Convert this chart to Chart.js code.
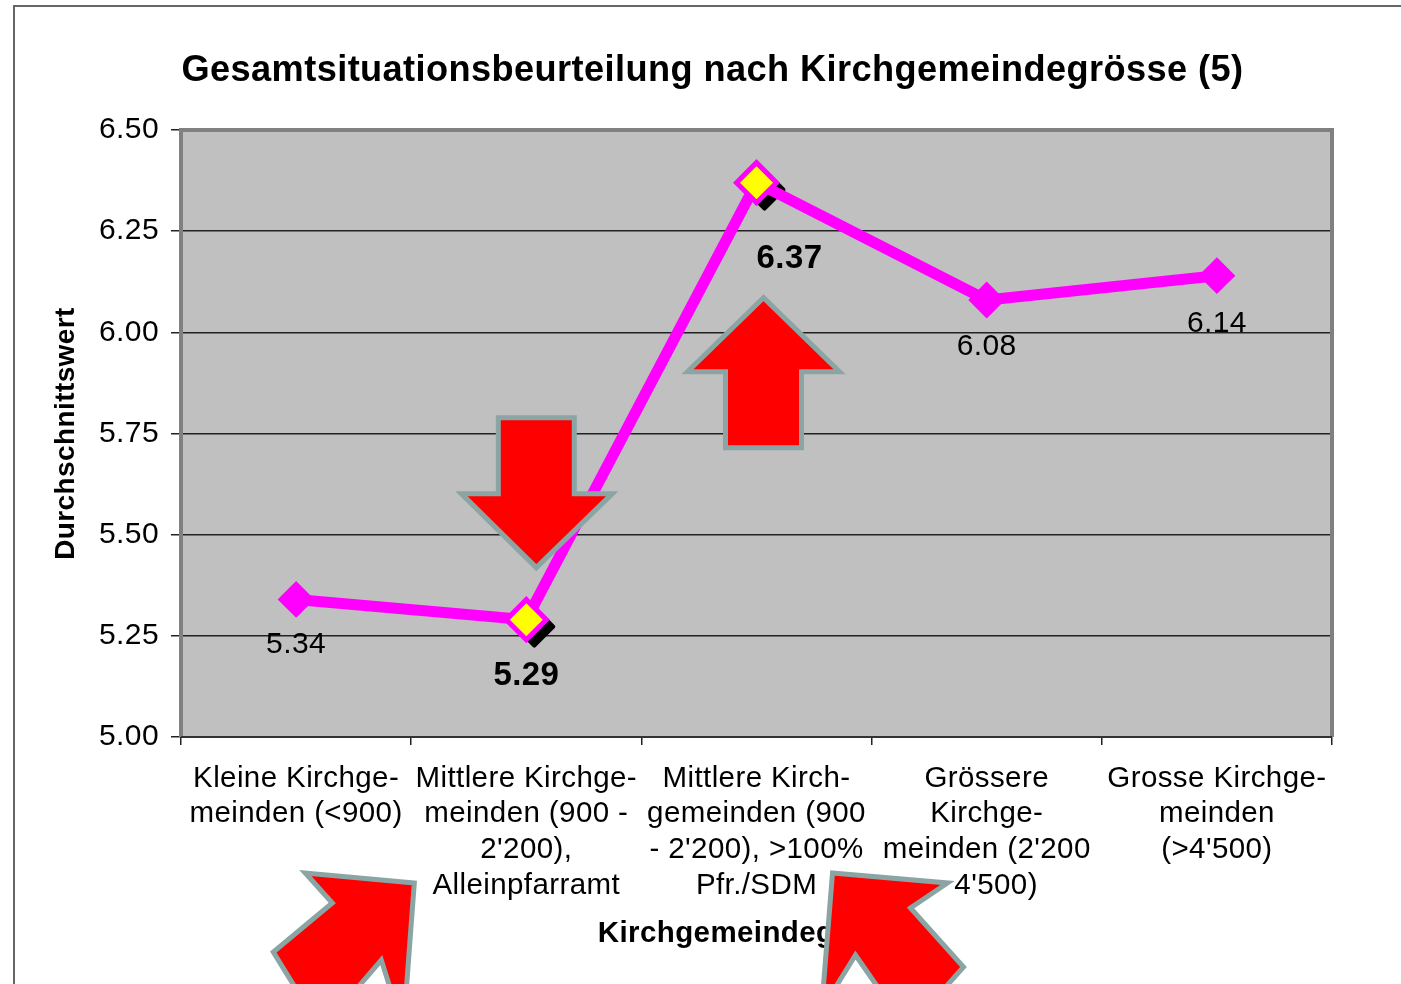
<!DOCTYPE html>
<html>
<head>
<meta charset="utf-8">
<title>Gesamtsituationsbeurteilung</title>
<script src="https://cdn.jsdelivr.net/npm/chart.js@4"></script>
<style>
  html, body { margin: 0; background: #fff; overflow: hidden; }
  #frame { position: absolute; left: 13px; top: 5px; width: 1500px; height: 1100px; border: 2px solid #666; }
  #cnv { position: absolute; left: 0; top: 0; }
</style>
</head>
<body>
<div id="frame"></div>
<canvas id="cnv" width="1401" height="984"></canvas>
<script>
const categories = [
  ["Kleine Kirchge-", "meinden (<900)"],
  ["Mittlere Kirchge-", "meinden (900 -", "2'200),", "Alleinpfarramt"],
  ["Mittlere Kirch-", "gemeinden (900", "- 2'200), >100%", "Pfr./SDM"],
  ["Grössere", "Kirchge-", "meinden (2'200", "- 4'500)"],
  ["Grosse Kirchge-", "meinden", "(>4'500)"]
];
const values = [5.34, 5.29, 6.37, 6.08, 6.14];
const highlighted = [1, 2];
const labelOffsets = [[0, 45], [0, 56], [33, 76], [0, 47], [0, 48]];

// arrows hang off a category + value, points are px offsets from there
const arrows = [
  { cat: 1, val: 5.29, pts: [[-28,-202],[48,-202],[48,-126],[86,-126],[10,-52],[-65,-126],[-28,-126]] },
  { cat: 2, val: 6.37, pts: [[7,115],[83,189],[45,189],[45,265],[-31,265],[-31,189],[-69,189]] },
  { cat: 1, val: 5.0, pts: [[-112,146],[-221,136],[-194,166],[-253,215],[-205,293],[-145,223],[-123,293]] },
  { cat: 2, val: 5.0, pts: [[76,136],[191,146],[154,171],[207,230],[151,293],[99,218],[65,273]] }
];

const FONT = "'Liberation Sans', Arial, sans-serif";

function diamond(ctx, x, y, r) {
  ctx.beginPath();
  ctx.moveTo(x, y - r);
  ctx.lineTo(x + r, y);
  ctx.lineTo(x, y + r);
  ctx.lineTo(x - r, y);
  ctx.closePath();
}

const decorations = {
  id: "decorations",
  beforeDraw(chart) {
    const { ctx, chartArea: a } = chart;
    ctx.letterSpacing = "0.4px";
    ctx.fillStyle = "#c0c0c0";
    ctx.fillRect(a.left, a.top, a.right - a.left, a.bottom - a.top);
  },
  beforeDatasetsDraw(chart) {
    const { ctx, chartArea: a } = chart;
    ctx.save();
    ctx.strokeStyle = "#808080";
    ctx.lineWidth = 4;
    ctx.beginPath();
    ctx.moveTo(a.left, a.bottom);
    ctx.lineTo(a.left, a.top);
    ctx.lineTo(a.right, a.top);
    ctx.lineTo(a.right, a.bottom);
    ctx.stroke();
    ctx.strokeStyle = "#333";
    ctx.lineWidth = 2;
    ctx.beginPath();
    ctx.moveTo(a.left, a.bottom);
    ctx.lineTo(a.right, a.bottom);
    ctx.stroke();
    // black shadow under the two highlighted markers
    const pts = chart.getDatasetMeta(0).data;
    ctx.fillStyle = "#000";
    ctx.strokeStyle = "#000";
    ctx.lineJoin = "round";
    ctx.lineWidth = 4;
    highlighted.forEach(i => {
      diamond(ctx, pts[i].x + 8, pts[i].y + 7, 19);
      ctx.fill();
      ctx.stroke();
    });
    ctx.restore();
  },
  afterDatasetsDraw(chart) {
    const { ctx } = chart;
    const pts = chart.getDatasetMeta(0).data;
    ctx.save();
    ctx.fillStyle = "#000";
    ctx.textAlign = "center";
    ctx.textBaseline = "middle";
    values.forEach((v, i) => {
      const bold = highlighted.includes(i);
      ctx.font = (bold ? "bold 33px " : "30px ") + FONT;
      ctx.fillText(v.toFixed(2), pts[i].x + labelOffsets[i][0], pts[i].y + labelOffsets[i][1]);
    });
    ctx.restore();
  },
  afterDraw(chart) {
    const { ctx, scales } = chart;
    ctx.save();
    ctx.fillStyle = "#ff0000";
    ctx.strokeStyle = "#8ba5a5";
    ctx.lineWidth = 5;
    ctx.lineJoin = "miter";
    ctx.miterLimit = 10;
    arrows.forEach(arrow => {
      const x0 = scales.x.getPixelForValue(arrow.cat);
      const y0 = scales.y.getPixelForValue(arrow.val);
      ctx.beginPath();
      arrow.pts.forEach(([dx, dy], i) => {
        if (i === 0) ctx.moveTo(x0 + dx, y0 + dy);
        else ctx.lineTo(x0 + dx, y0 + dy);
      });
      ctx.closePath();
      ctx.fill();
      ctx.stroke();
    });
    ctx.restore();
  }
};

new Chart("cnv", {
  type: "line",
  plugins: [decorations],
  data: {
    labels: categories,
    datasets: [{
      label: "Durchschnittswert",
      data: values,
      borderColor: "#ff00ff",
      borderWidth: 11,
      tension: 0,
      pointStyle: "rectRot",
      pointRadius: values.map((v, i) => highlighted.includes(i) ? 20 : 17),
      pointBackgroundColor: values.map((v, i) => highlighted.includes(i) ? "#ffff00" : "#ff00ff"),
      pointBorderColor: "#ff00ff",
      pointBorderWidth: values.map((v, i) => highlighted.includes(i) ? 5 : 2)
    }]
  },
  options: {
    responsive: false,
    animation: false,
    layout: { padding: { left: 24, right: 0, top: 0, bottom: 0 } },
    plugins: {
      legend: { display: false },
      tooltip: { enabled: false },
      title: {
        display: true,
        text: "Gesamtsituationsbeurteilung nach Kirchgemeindegrösse (5)",
        color: "#000",
        font: { family: FONT, size: 36.2, weight: "bold", lineHeight: 1.2 },
        padding: { top: 49, bottom: 37.6 }
      }
    },
    scales: {
      x: {
        offset: true,
        border: { display: false },
        grid: { offset: true, drawOnChartArea: false, drawTicks: true, tickLength: 8, color: "#222", lineWidth: 1.5 },
        ticks: {
          color: "#000",
          font: { family: FONT, size: 29.5, lineHeight: 1.205 },
          padding: 16,
          maxRotation: 0,
          autoSkip: false
        },
        title: {
          display: true,
          text: "Kirchgemeindegrösse",
          color: "#000",
          font: { family: FONT, size: 29.5, weight: "bold" },
          padding: { top: 0, bottom: 32 }
        },
        afterFit(scale) { scale.height = 247; }
      },
      y: {
        min: 5,
        max: 6.5,
        border: { display: false },
        grid: { color: "#222", lineWidth: 1.5, tickLength: 10 },
        ticks: {
          stepSize: 0.25,
          color: "#000",
          font: { family: FONT, size: 30 },
          padding: 12,
          callback: v => v.toFixed(2)
        },
        title: {
          display: true,
          text: "Durchschnittswert",
          color: "#000",
          font: { family: FONT, size: 28, weight: "bold" },
          padding: { top: 25, bottom: 0 }
        },
        afterFit(scale) { scale.width = 157; }
      },
      right: {
        position: "right",
        grid: { display: false },
        border: { display: false },
        ticks: { display: false },
        afterFit(scale) { scale.width = 69; }
      }
    }
  }
});
</script>
</body>
</html>
